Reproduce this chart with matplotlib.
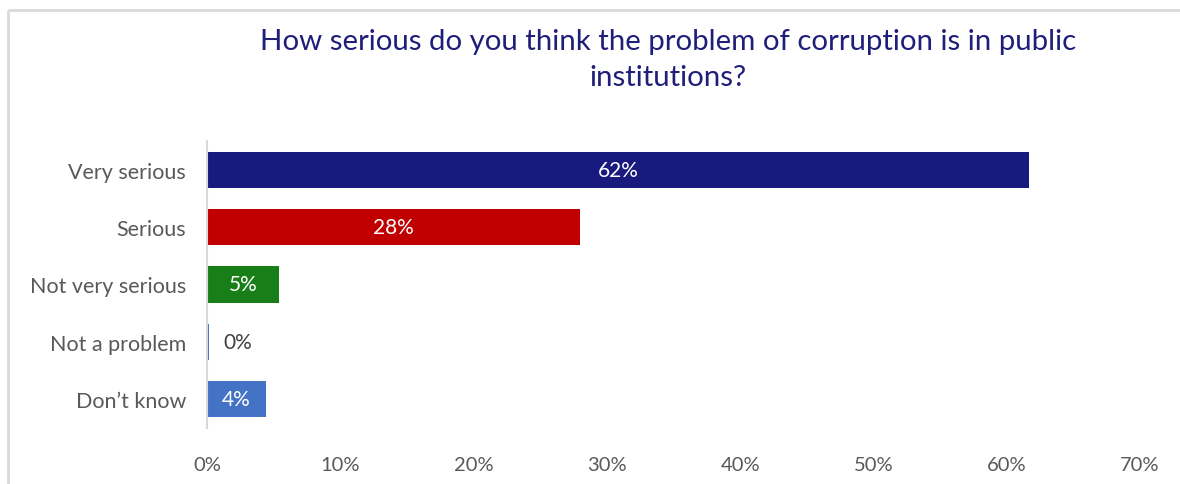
import numpy as np
import matplotlib
matplotlib.use("Agg")
from matplotlib import pyplot as plt
from matplotlib.lines import Line2D

# respostas da pergunta sobre corrupcao
categories = ["Very serious", "Serious", "Not very serious", "Not a problem", "Don\u2019t know"]
values = [61.7, 28.0, 5.4, 0.15, 4.4]
colors = ["#191a7e", "#c00000", "#187e18", "#4472c4", "#4472c4"]
xticks = [0, 10, 20, 30, 40, 50, 60, 70]

title = "How serious do you think the problem of corruption is in public\ninstitutions?"

plt.rcParams['font.family'] = ['Lato', 'DejaVu Sans']

fig = plt.figure(figsize=(11.8, 4.85), dpi=100)
ax = fig.add_axes([207 / 1180, 56 / 485, 933 / 1180, 287 / 485])

y = np.arange(len(categories))
bars = ax.barh(y, values, height=0.63, color=colors)

# rotulos de valor: dentro da barra em branco, fora se a barra for pequena
for bar, v in zip(bars, values):
	cy = bar.get_y() + bar.get_height() / 2
	txt = "{:.0f}%".format(v)
	if v >= 2:
		ax.text(v / 2, cy, txt, ha='center', va='center', color='white', fontsize=15)
	else:
		ax.annotate(txt, (v, cy), xytext=(10, 0), textcoords='offset points',
			ha='left', va='center', color='#404040', fontsize=15)

ax.set_xlim(0, 70)
ax.set_ylim(len(categories) - 0.5, -0.5)
ax.set_yticks(y)
ax.set_yticklabels(categories, fontsize=15.5, color='#595959')
ax.set_xticks(xticks)
ax.set_xticklabels(["{}%".format(t) for t in xticks], fontsize=14.5, color='#595959')
ax.tick_params(axis='y', length=0, pad=15)
ax.tick_params(axis='x', length=0, pad=20)

for side in ['top', 'right', 'bottom']:
	ax.spines[side].set_visible(False)
ax.spines['left'].set_color('#d9d9d9')
ax.spines['left'].set_linewidth(1.5)

fig.text(668 / 1180, 1 - 60 / 485, title, ha='center', va='center',
	fontsize=21.2, color='#1f1f7a', linespacing=1.5)

# moldura do grafico (so topo e lado esquerdo aparecem)
bx = 7.5 / 1180
by = 1 - 10.5 / 485
fig.add_artist(Line2D([bx, 1.05], [by, by], transform=fig.transFigure,
	color='#d9d9d9', lw=2, solid_capstyle='butt'))
fig.add_artist(Line2D([bx, bx], [-0.05, by], transform=fig.transFigure,
	color='#d9d9d9', lw=2, solid_capstyle='butt'))

fig.savefig("out.png", dpi=100, facecolor='white')
